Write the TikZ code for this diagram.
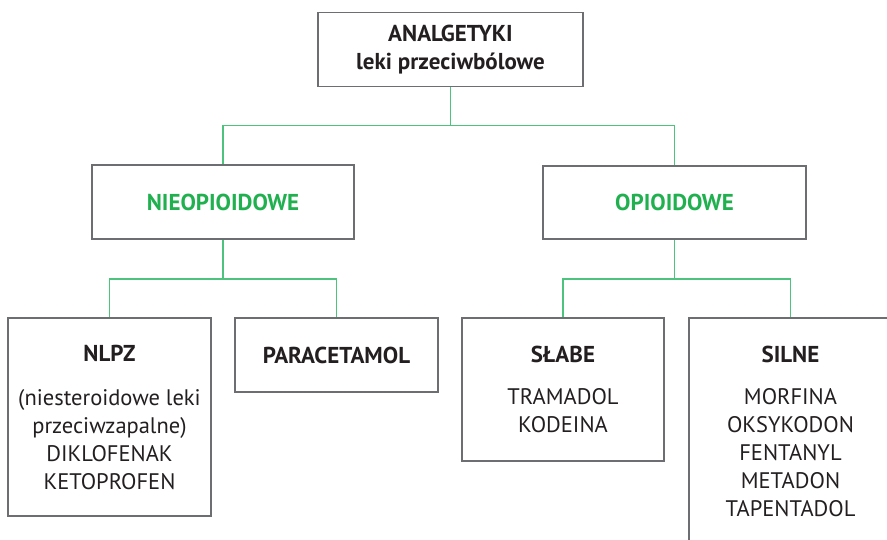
\documentclass[tikz,border=0pt]{standalone}
\usepackage{fontspec}
\setmainfont{PT Sans}
\definecolor{boxgray}{HTML}{6D6E71}
\definecolor{inkblack}{HTML}{231F20}
\definecolor{headgreen}{HTML}{21B04F}
\definecolor{linkgreen}{HTML}{4CC47E}
\newcommand{\bigb}[1]{{\fontsize{23}{28}\selectfont\bfseries #1}}
\begin{document}
\begin{tikzpicture}[x=1pt, y=-1pt,
  box/.style={draw=boxgray, line width=1.8pt, rectangle, align=center,
    text=inkblack, inner sep=0pt, font=\fontsize{22.5}{28}\selectfont},
  head/.style={box, text=headgreen, font=\fontsize{23}{28}\selectfont\bfseries},
  conn/.style={draw=linkgreen, line width=1.2pt}]
  \clip (0,0) rectangle (887,539);

  % top level
  \node[box, minimum width=265pt, minimum height=74pt] (top) at (450.5,49.5)
    {\bigb{ANALGETYKI}\\\bigb{leki przeciwbólowe}};

  % second level
  \node[head, minimum width=262pt, minimum height=74pt] (nieo) at (223,202) {NIEOPIOIDOWE};
  \node[head, minimum width=263pt, minimum height=73pt] (opio) at (674.5,202.5) {OPIOIDOWE};

  % third level
  \node[box, minimum width=203pt, minimum height=198pt] (nlpz) at (109.5,417)
    {\bigb{NLPZ}\\[16pt](niesteroidowe leki\\przeciwzapalne)\\DIKLOFENAK\\KETOPROFEN};
  \node[box, minimum width=203pt, minimum height=74pt] (para) at (336.5,355)
    {\bigb{PARACETAMOL}};
  \node[box, minimum width=202pt, minimum height=143pt] (slabe) at (563,389.5)
    {\bigb{SŁABE}\\[14pt]TRAMADOL\\KODEINA};
  \node[box, minimum width=203pt, minimum height=227pt] (silne) at (790.5,431.5)
    {\bigb{SILNE}\\[14pt]MORFINA\\OKSYKODON\\FENTANYL\\METADON\\TAPENTADOL};

  % connectors
  \draw[conn] (top.south) -- ++(0,38) coordinate (bus1);
  \draw[conn] (bus1) -| (nieo.north);
  \draw[conn] (bus1) -| (opio.north);

  \draw[conn] (nieo.south) -- ++(0,39) coordinate (bus2);
  \draw[conn] (bus2) -| (nlpz.north);
  \draw[conn] (bus2) -| (para.north);

  \draw[conn] (opio.south) -- ++(0,39) coordinate (bus3);
  \draw[conn] (bus3) -| (slabe.north);
  \draw[conn] (bus3) -| (silne.north);
\end{tikzpicture}
\end{document}
